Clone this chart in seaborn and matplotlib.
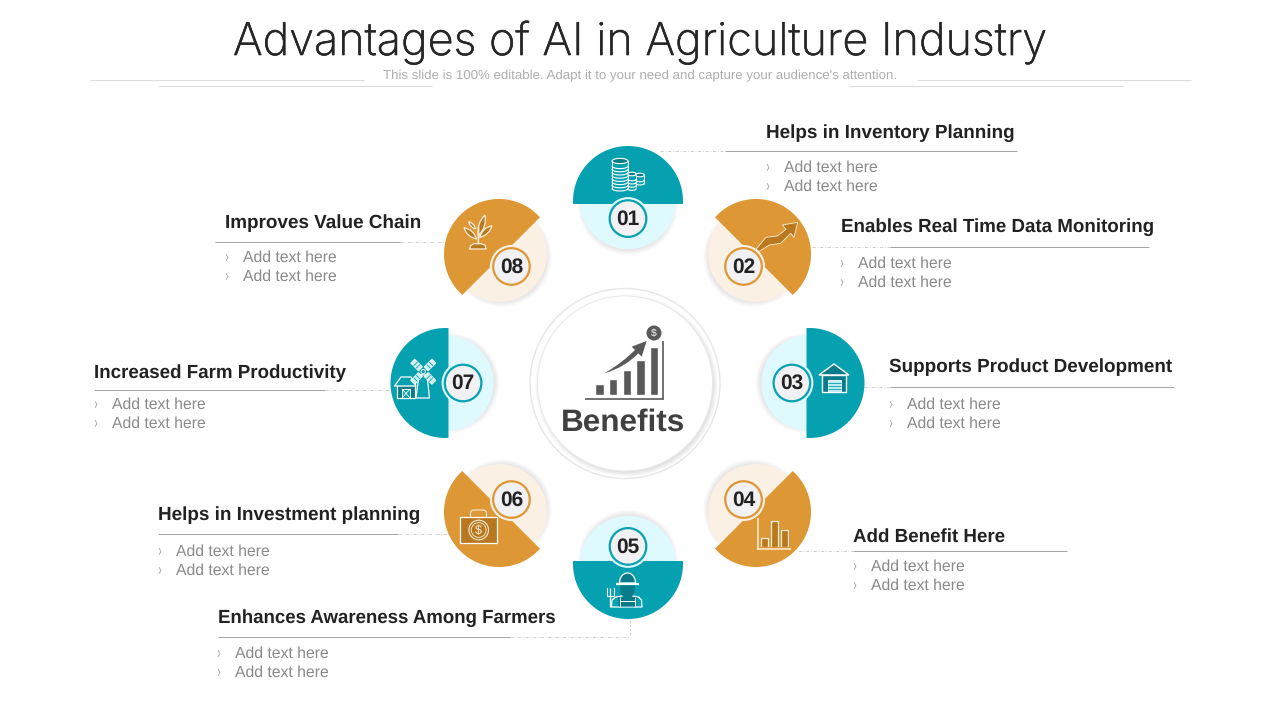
import numpy as np
import matplotlib
matplotlib.use("Agg")
import matplotlib.pyplot as plt
import matplotlib.patheffects as pe
from matplotlib.patches import Circle, Polygon, Rectangle, PathPatch, FancyBboxPatch
from matplotlib.path import Path
import seaborn as sns

# ---------- content ----------
TITLE = "Advantages of AI in Agriculture Industry"
SUBTITLE = "This slide is 100% editable. Adapt it to your need and capture your audience's attention."
HUB_LABEL = "Benefits"
NODE_NUMBERS = ["01", "02", "03", "04", "05", "06", "07", "08"]
NODE_TITLES = ["Helps in Inventory Planning", "Enables Real Time Data Monitoring",
               "Supports Product Development", "Add Benefit Here",
               "Enhances Awareness Among Farmers", "Helps in Investment planning",
               "Increased Farm Productivity", "Improves Value Chain"]
BULLET_TEXT = "Add text here"
HUB_BAR_LABELS = ["a", "b", "c", "d", "e"]
HUB_BAR_VALUES = [11.3, 16.3, 25.7, 35.0, 48.7]
ICON_BAR_LABELS = ["a", "b", "c"]
ICON_BAR_VALUES = [9.3, 26.3, 17.3]

# ---------- palette ----------
TEAL, TEAL_LIGHT, TEAL_DARK = "#06a1b1", "#dffaff", "#087a8a"
ORANGE, ORANGE_LIGHT, ORANGE_DARK = "#de9735", "#faf0e4", "#b9781f"
CREAM = "#fbeed8"
INK, BULLET, RULE, DASH, HUBGREY = "#222222", "#8a8a8a", "#a6a6a6", "#c9c9c9", "#595959"

sns.set_theme(style="white")
plt.rcParams["font.family"] = ["Liberation Sans", "DejaVu Sans"]
plt.rcParams["text.hinting"] = "no_hinting"

fig = plt.figure(figsize=(12.8, 7.2), dpi=100, facecolor="white")
ax = fig.add_axes([0, 0, 1, 1])
ax.set_xlim(0, 1280)
ax.set_ylim(720, 0)
ax.axis("off")


def inset(x0, y0, x1, y1):
    a = fig.add_axes([x0 / 1280, 1 - y1 / 720, (x1 - x0) / 1280, (y1 - y0) / 720])
    a.patch.set_alpha(0)
    return a


def fit_text(x, y, s, width, ha="left", va="center", **kw):
    t = ax.text(x, y, s, ha=ha, va=va, **kw)
    r = fig.canvas.get_renderer()
    for _ in range(3):
        w = t.get_window_extent(r).width
        t.set_fontsize(t.get_fontsize() * width / w)
    return t


def line(xs, ys, color, lw=1.0, ls="-", z=3, **kw):
    ax.plot(xs, ys, color=color, lw=lw, ls=ls, zorder=z, solid_capstyle="butt", **kw)


# ---------- header ----------
title = fit_text(640, 55, TITLE, 814, ha="center", va="baseline", family=["Inter", "DejaVu Sans"], weight="light", color="#262626", fontsize=32)
title.set_path_effects([pe.withStroke(linewidth=0.45, foreground="#262626")])
fit_text(640, 76, SUBTITLE, 514, ha="center", color="#adadad", fontsize=9)
for xs, y in [((90, 364), 80), ((917, 1191), 80), ((158, 432), 86), ((849, 1123), 86)]:
    line(xs, (y, y), "#dcdcdc", 0.8)

# ---------- nodes ----------
CENTERS = [(628, 201), (756, 254), (809.5, 383), (756, 512), (628, 564), (499, 512), (445.5, 383), (499, 254)]
DIRS = [(0, 1), (-1, 1), (-1, 0), (-1, -1), (0, -1), (1, -1), (1, 0), (1, 1)]
KIND = [0, 1, 0, 1, 0, 1, 0, 1]


def half_disc(c, n, r, offset, **kw):
    phi = np.arctan2(n[1], n[0])
    alpha = np.arccos(offset / r)
    th = np.linspace(phi + alpha, phi + 2 * np.pi - alpha, 120)
    ax.add_patch(Polygon(np.c_[c[0] + r * np.cos(th), c[1] + r * np.sin(th)], closed=True, lw=0, **kw))


for i, num in enumerate(NODE_NUMBERS):
    c = np.array(CENTERS[i], float)
    n = np.array(DIRS[i], float)
    n /= np.linalg.norm(n)
    dark, light = (ORANGE, ORANGE_LIGHT) if KIND[i] else (TEAL, TEAL_LIGHT)
    for k in range(6):
        ax.add_patch(Circle(c + n * 4, 45.5 + k * 0.9, fc="#000000", alpha=0.014, lw=0, zorder=4))
    ax.add_patch(Circle(c, 48, fc=light, lw=0, zorder=5))
    half_disc(c, n, 55, 3, fc=dark, zorder=6)
    nc = c + n * 17.6
    ax.add_patch(Circle(nc, 21.5, fc=light, lw=0, zorder=7))
    ax.add_patch(Circle(nc, 18.3, fc="#f1f1f3", ec=dark, lw=1.6, zorder=8))
    ax.text(nc[0], nc[1] + 0.5, num, ha="center", va="center", weight="bold", fontsize=15, color=INK, zorder=9)

# ---------- labels ----------
TITLE_X = [(766, 1014, 133.5), (841, 1154, 227.5), (889, 1171, 367.5), (853, 1005, 536.5),
           (218, 558, 618.5), (158, 420, 515.5), (94, 347, 373.5), (225, 422, 223.5)]
RULES = [(725, 1017, 151, 660, 725), (890, 1149, 247, 812, 890), (890, 1174, 387, 864, 890),
         (853, 1067, 551, 798, 853), (218, 510, 637, 510, 630), (158, 398, 534, 398, 452),
         (94, 325, 390, 325, 392), (215, 400, 242, 400, 446)]
BULLETS = [(768, 784, 167, 186), (842, 858, 263, 282), (891, 907, 404, 423), (855, 871, 566, 585),
           (219, 235, 653, 672), (160, 176, 551, 570), (96, 112, 404, 423), (227, 243, 257, 276)]

for i, s in enumerate(NODE_TITLES):
    x0, x1, y = TITLE_X[i]
    fit_text(x0, y, s, x1 - x0, weight="bold", color=INK, fontsize=14)
    a, b, ry, d0, d1 = RULES[i]
    line((a, b), (ry, ry), RULE, 0.75)
    line((d0, d1), (ry, ry), DASH, 0.6, ls=(0, (4, 2, 1, 2)))
    bx, tx, y1, y2 = BULLETS[i]
    for yy in (y1, y2):
        fit_text(tx, yy + 0.8, BULLET_TEXT, 94, color=BULLET, fontsize=12)
        line((bx - 1, bx + 1, bx - 1), (yy - 2.8, yy + 0.5, yy + 3.8), "#a0a0a0", 0.6)
line((630, 630), (620, 637), DASH, 0.6, ls=(0, (3, 2)))

# ---------- hub ----------
hc = (625, 383.5)
ax.add_patch(Circle(hc, 95, fc="white", ec="#e6e6e6", lw=1.0, zorder=1))
for k in range(7):
    ax.add_patch(Circle((hc[0] + 1.5, hc[1] + 2), 87 + k * 0.7, fc="#000000", alpha=0.016, lw=0, zorder=2))
ax.add_patch(Circle(hc, 87.5, fc="white", ec="#e8e8e8", lw=0.6, zorder=3))
fit_text(623.5, 422.3, HUB_LABEL, 124, ha="center", weight="bold", color="#404040", fontsize=22, zorder=6)

hub_ax = inset(592.8, 345.3, 660.8, 395.3)
sns.barplot(x=HUB_BAR_LABELS, y=HUB_BAR_VALUES, color=HUBGREY, saturation=1, width=0.62, ax=hub_ax)
hub_ax.set_xlim(-0.5, 4.5)
hub_ax.set_ylim(0, 50)
hub_ax.axis("off")
line((585, 663.5), (399, 399), HUBGREY, 1.2, z=6)
line((663.2, 663.2), (341, 399), HUBGREY, 1.2, z=6)
arrow = np.array([(253, 280), (305, 250), (345, 210), (335, 200), (380, 183), (365, 230), (355, 220), (315, 262), (253, 280)], float) / 3 + (520, 280)
codes = [Path.MOVETO, Path.CURVE3, Path.CURVE3, Path.LINETO, Path.LINETO, Path.LINETO, Path.LINETO, Path.CURVE3, Path.CURVE3]
ax.add_patch(PathPatch(Path(arrow, codes), fc=HUBGREY, lw=0, zorder=6))
ax.add_patch(Circle((654, 333), 7.5, fc=HUBGREY, lw=0, zorder=6))
ax.text(654, 333.3, "$", color="white", ha="center", va="center", fontsize=7.5, zorder=7)

# ---------- icons ----------
Z = 10
W = "white"


def coin_stack(cx, top, bottom, rx, ry=2.4):
    ys = np.arange(top + 5, bottom, 3.2)
    for y in ys[::-1]:
        th = np.linspace(0, np.pi, 30)
        ax.plot(cx + rx * np.cos(th), y + ry * np.sin(th), color=W, lw=0.8, zorder=Z)
    line((cx - rx, cx - rx), (top, bottom - 2), W, 0.7, z=Z)
    line((cx + rx, cx + rx), (top, bottom - 2), W, 0.7, z=Z)
    th = np.linspace(0, 2 * np.pi, 40)
    ax.fill(cx + rx * np.cos(th), top + ry * np.sin(th), fc=TEAL_DARK, ec=W, lw=0.8, zorder=Z)


coin_stack(620, 161, 191, 8, 2.6)
coin_stack(632, 174, 189, 4.2, 1.8)
coin_stack(640, 175, 186, 4.2, 1.8)

# 02 rising arrow
pts = np.array([(708, 358), (738, 322), (772, 318), (798, 298), (787, 285), (833, 277), (822, 322), (812, 310),
                (782, 340), (748, 345), (718, 364)], float) / 3 + (520, 130)
ax.add_patch(Polygon(pts, closed=True, fc=ORANGE_DARK, ec=CREAM, lw=0.6, zorder=Z))

# 03 barn
ax.add_patch(Polygon([(834, 364), (819, 375), (849, 375)], closed=True, fc=TEAL_DARK, ec=W, lw=1, zorder=Z))
ax.add_patch(Rectangle((821.7, 375), 24, 16.7, fc=TEAL_DARK, ec=W, lw=1, zorder=Z))
ax.add_patch(Rectangle((827.5, 379.5), 13, 12, fc="#bfeaf0", ec=W, lw=0.6, zorder=Z))
for y in (382.5, 385.5, 388.5):
    line((827.5, 840.5), (y, y), TEAL, 0.6, z=Z + 1)

# 04 mini bar chart
icon_ax = inset(759.2, 517.3, 789.2, 547.3)
sns.barplot(x=ICON_BAR_LABELS, y=ICON_BAR_VALUES, color=ORANGE_DARK, saturation=1, width=0.7,
            edgecolor=CREAM, linewidth=0.9, ax=icon_ax)
icon_ax.set_xlim(-0.5, 2.5)
icon_ax.set_ylim(0, 30)
icon_ax.axis("off")
line((757.7, 757.7), (517.5, 549.5), CREAM, 1.1, z=Z)
line((757.2, 790.7), (549.3, 549.3), CREAM, 1.1, z=Z)

# 05 farmer
body = [(611.5, 607), (612, 600), (616, 597), (622, 596), (633, 596), (638.5, 597), (641.5, 600), (642, 607)]
ax.add_patch(Polygon(body, closed=True, fc=TEAL, ec=W, lw=0.9, zorder=Z))
ax.add_patch(Polygon([(618, 597), (637, 597), (636, 606.5), (619, 606.5)], closed=True, fc=TEAL_DARK, lw=0, zorder=Z))
th = np.linspace(np.pi, 2 * np.pi, 30)
ax.fill(627.5 + 8 * np.cos(th), 583 + 10 * np.sin(th), fc=TEAL_DARK, ec=W, lw=0.9, zorder=Z + 1)
ax.add_patch(Polygon([(620, 585), (635, 585), (634.5, 593), (631, 598), (624, 598), (620.5, 593)], closed=True,
                     fc=TEAL_DARK, lw=0, zorder=Z + 1))
line((616, 638.5), (584, 584), W, 1.6, z=Z + 2)
line((620, 620), (597, 607), W, 0.7, z=Z + 1)
line((635, 635), (597, 607), W, 0.7, z=Z + 1)
line((620, 635), (601, 601), W, 0.7, z=Z + 1)
line((610, 610), (588, 607), W, 0.9, z=Z)
ax.plot((606.5, 606.5, 613.5, 613.5), (588, 596, 596, 588), color=W, lw=0.8, zorder=Z)

# 06 briefcase
ax.add_patch(FancyBboxPatch((470.5, 510), 16, 9, boxstyle="round,pad=0,rounding_size=3.5", fc="none", ec=CREAM, lw=0.8, zorder=Z))
ax.add_patch(Rectangle((460, 517.3), 37.3, 26, fc=ORANGE_DARK, ec=W, lw=0.9, zorder=Z))
ax.add_patch(Circle((478.7, 530), 9.8, fc=ORANGE_DARK, ec=CREAM, lw=0.8, zorder=Z))
ax.add_patch(Circle((478.7, 530), 7.4, fc="none", ec=CREAM, lw=0.6, zorder=Z))
ax.text(478.7, 530.3, "$", color=CREAM, ha="center", va="center", fontsize=9, zorder=Z + 1)

# 07 farm and windmill
ax.add_patch(Rectangle((397, 385), 18, 13, fc=TEAL_DARK, ec=W, lw=0.9, zorder=Z))
ax.add_patch(Polygon([(394.5, 386), (401, 377), (411, 377), (416, 386)], closed=True, fc=TEAL, ec=W, lw=0.9, zorder=Z))
ax.add_patch(Rectangle((402, 389), 8, 9, fc=TEAL, ec=W, lw=0.7, zorder=Z))
ax.plot((402, 410), (389, 398), color=W, lw=0.6, zorder=Z + 1)
ax.plot((402, 410), (398, 389), color=W, lw=0.6, zorder=Z + 1)
ax.add_patch(Polygon([(416, 398), (419, 375), (427, 375), (429.5, 398)], closed=True, fc=TEAL, ec=W, lw=0.9, zorder=Z))
mill = np.array([423.3, 371.7])
for ang in np.deg2rad([45, 135, 225, 315]):
    d = np.array([np.cos(ang), np.sin(ang)])
    p = np.array([-d[1], d[0]])
    blade = [mill + d * 4 + p * 2.8, mill + d * 15 + p * 2.8, mill + d * 15 - p * 2.8, mill + d * 4 - p * 2.8]
    ax.add_patch(Polygon(blade, closed=True, fc="#cfeff3", ec=W, lw=0.6, zorder=Z))
    for t in (7.5, 11):
        a, b = mill + d * t + p * 2.8, mill + d * t - p * 2.8
        line((a[0], b[0]), (a[1], b[1]), TEAL, 0.6, z=Z + 1)
ax.add_patch(Circle(mill, 2.2, fc=TEAL, ec=W, lw=0.7, zorder=Z + 1))


# 08 seedling
def leaf(base, tip, w):
    b, t = np.array(base, float), np.array(tip, float)
    d = t - b
    p = np.array([-d[1], d[0]]) / np.linalg.norm(d) * w
    m = b + d * 0.5
    verts = [b, m + p, t, m - p, b]
    codes = [Path.MOVETO, Path.CURVE3, Path.CURVE3, Path.CURVE3, Path.CURVE3]
    ax.add_patch(PathPatch(Path(verts, codes), fc=ORANGE_DARK, ec=CREAM, lw=0.9, zorder=Z))


O = np.array((450, 205))
for base, tip, w in [((85, 92), (105, 30), 17), ((89, 97), (126, 62), 15), ((80, 102), (42, 68), 15), ((77, 72), (56, 50), 9)]:
    leaf(O + np.array(base) / 3, O + np.array(tip) / 3, w / 3)
line((450 + 85 / 3, 450 + 86 / 3), (205 + 118 / 3, 205 + 65 / 3), CREAM, 1.1, z=Z + 1)
soil = np.array([(58, 132), (108, 132), (105, 120), (92, 116), (72, 116), (62, 122)], float) / 3 + O
ax.add_patch(Polygon(soil, closed=True, fc=ORANGE_DARK, ec=CREAM, lw=0.9, zorder=Z))

fig.savefig("out.png", dpi=100, facecolor="white")
